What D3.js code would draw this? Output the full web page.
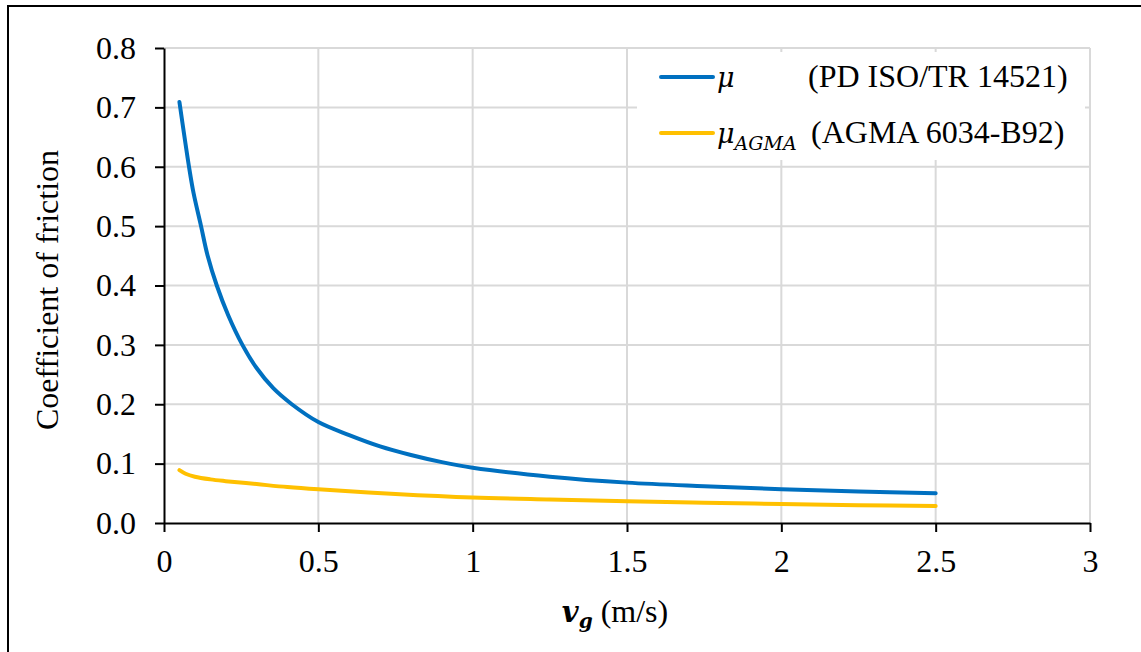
<!DOCTYPE html>
<html>
<head>
<meta charset="utf-8">
<script src="https://cdn.jsdelivr.net/npm/d3@7"></script>
<style>
  html, body { margin: 0; padding: 0; background: #fff; }
  svg { display: block; }
</style>
</head>
<body>
<svg id="chart" width="1141" height="652"></svg>
<script>
// ---- data ----
const muX   = [0.05, 0.081, 0.096, 0.12, 0.141, 0.171, 0.208, 0.254, 0.30, 0.354, 0.414, 0.50, 0.60, 0.70, 0.80, 0.90, 1.00, 1.25, 1.50, 1.75, 2.00, 2.25, 2.50];
const muY   = [0.709, 0.60, 0.555, 0.50, 0.451, 0.40, 0.35, 0.30, 0.261, 0.227, 0.20, 0.170, 0.148, 0.129, 0.1145, 0.1025, 0.093, 0.078, 0.068, 0.062, 0.057, 0.053, 0.050];
const agmaX = [0.05, 0.07, 0.10, 0.15, 0.20, 0.30, 0.40, 0.50, 0.75, 1.00, 1.25, 1.50, 1.75, 2.00, 2.25, 2.50];
const agmaY = [0.089, 0.083, 0.078, 0.0735, 0.0705, 0.0655, 0.0605, 0.0567, 0.049, 0.043, 0.0395, 0.0365, 0.034, 0.032, 0.030, 0.0286];
const xTicks = [0, 0.5, 1, 1.5, 2, 2.5, 3];
const yTicks = [0, 0.1, 0.2, 0.3, 0.4, 0.5, 0.6, 0.7, 0.8];

const FONT = "Liberation Serif";
const FS = 32;
const svg = d3.select("#chart").attr("font-family", FONT);
const pL = 164, pR = 1090, pT = 48, pB = 523;
const x = d3.scaleLinear().domain([0, 3]).range([pL, pR]);
const y = d3.scaleLinear().domain([0, 0.8]).range([pB, pT]);

// outer border (right/bottom edges fall outside)
svg.append("rect").attr("x", 8).attr("y", 6).attr("width", 1150).attr("height", 660)
  .attr("fill", "none").attr("stroke", "#000").attr("stroke-width", 2);

// grid
svg.append("g").selectAll("line").data(yTicks.slice(1)).join("line")
  .attr("x1", pL).attr("x2", pR).attr("y1", d => y(d)).attr("y2", d => y(d))
  .attr("stroke", "#d9d9d9").attr("stroke-width", 2);
svg.append("g").selectAll("line").data(xTicks.slice(1)).join("line")
  .attr("y1", pT).attr("y2", pB).attr("x1", d => x(d)).attr("x2", d => x(d))
  .attr("stroke", "#d9d9d9").attr("stroke-width", 2);

// axes
const xAxis = svg.append("g").attr("transform", `translate(0,${pB})`)
  .call(d3.axisBottom(x).tickValues(xTicks).tickFormat(d => String(d)).tickSize(9).tickSizeOuter(0).tickPadding(17));
const yAxis = svg.append("g").attr("transform", `translate(${pL},0)`)
  .call(d3.axisLeft(y).tickValues(yTicks).tickFormat(d3.format(".1f")).tickSize(9).tickSizeOuter(0).tickPadding(19));
[xAxis, yAxis].forEach(a => {
  a.attr("font-family", FONT).attr("font-size", FS);
  a.select(".domain").attr("stroke", "#000").attr("stroke-width", 2);
  a.selectAll(".tick line").attr("stroke", "#000").attr("stroke-width", 2);
  a.selectAll(".tick text").attr("fill", "#000");
});

// lines
const line = d3.line().x(d => x(d[0])).y(d => y(d[1])).curve(d3.curveCatmullRom.alpha(0.5));
svg.append("path").datum(agmaX.map((v, i) => [v, agmaY[i]])).attr("d", line)
  .attr("fill", "none").attr("stroke", "#FFC000").attr("stroke-width", 4).attr("stroke-linecap", "round");
svg.append("path").datum(muX.map((v, i) => [v, muY[i]])).attr("d", line)
  .attr("fill", "none").attr("stroke", "#0070C0").attr("stroke-width", 4).attr("stroke-linecap", "round");

// legend
const lg = svg.append("g");
lg.append("rect").attr("x", 637).attr("y", 52).attr("width", 448).attr("height", 108).attr("fill", "#fff");
const legendItems = [
  { color: "#0070C0", y: 77, sub: "", label: "(PD ISO/TR 14521)", lx: 808 },
  { color: "#FFC000", y: 133, sub: "AGMA", label: "(AGMA 6034-B92)", lx: 811 }
];
legendItems.forEach(it => {
  lg.append("line").attr("x1", 661).attr("x2", 713).attr("y1", it.y).attr("y2", it.y)
    .attr("stroke", it.color).attr("stroke-width", 4).attr("stroke-linecap", "round");
  const t = lg.append("text").attr("x", 717).attr("y", it.y + 10).attr("font-size", FS).attr("fill", "#000");
  t.append("tspan").text("μ").attr("font-style", "italic").attr("font-family", "DejaVu Serif").attr("font-size", 27);
  if (it.sub) t.append("tspan").text(it.sub).attr("dy", 7).attr("font-style", "italic").attr("font-family", "DejaVu Serif").attr("font-size", 19);
  lg.append("text").attr("x", it.lx).attr("y", it.y + 10).attr("font-size", FS).attr("fill", "#000").text(it.label);
});

// axis titles
svg.append("text").attr("transform", "translate(58,290) rotate(-90)").attr("text-anchor", "middle")
  .attr("font-size", FS).attr("fill", "#000").text("Coefficient of friction");
const xt = svg.append("text").attr("x", 615).attr("y", 622).attr("text-anchor", "middle").attr("font-size", FS).attr("fill", "#000");
xt.append("tspan").text("v").attr("font-weight", "bold").attr("font-style", "italic").attr("font-family", "DejaVu Serif").attr("font-size", 29);
xt.append("tspan").text("g").attr("dy", 6).attr("font-weight", "bold").attr("font-style", "italic").attr("font-family", "DejaVu Serif").attr("font-size", 20);
xt.append("tspan").text(" (m/s)").attr("dy", -6);
</script>
</body>
</html>
